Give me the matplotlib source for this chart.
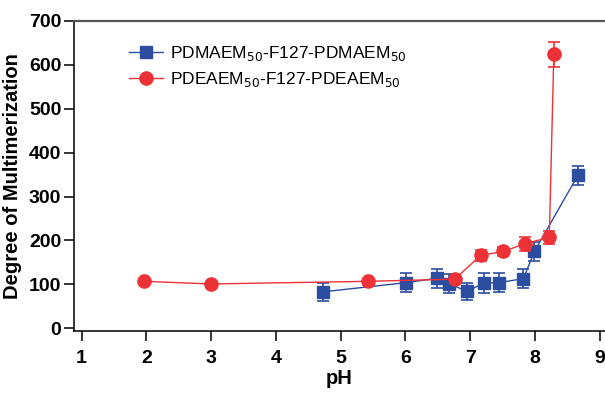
import numpy as np
import matplotlib.pyplot as plt
from matplotlib.lines import Line2D

plt.rcParams['font.family'] = ['Liberation Sans', 'DejaVu Sans']

# PDMAEM50-F127-PDMAEM50
ph_dma = [4.72, 6.01, 6.49, 6.67, 6.95, 7.21, 7.44, 7.82, 7.99, 8.66]
dm_dma = [83, 104, 114, 102, 84, 103, 104, 113, 175, 348]
err_dma = [20, 22, 22, 21, 20, 22, 21, 21, 21, 21]

# PDEAEM50-F127-PDEAEM50
ph_dea = [1.97, 3.00, 5.42, 6.76, 7.16, 7.51, 7.85, 8.22, 8.29]
dm_dea = [107, 101, 107, 112, 166, 175, 193, 207, 624]
err_dea = [0, 0, 0, 0, 13, 11, 16, 14, 28]

labels = ['PDMAEM$_{50}$-F127-PDMAEM$_{50}$', 'PDEAEM$_{50}$-F127-PDEAEM$_{50}$']

blue = '#2d4da0'
red = '#ec3237'

fig = plt.figure(figsize=(6.05, 3.94), dpi=100)
ax = fig.add_axes([0.122, 0.16, 0.878, 0.787])

ax.errorbar(ph_dma, dm_dma, yerr=err_dma, color=blue, marker='s', markersize=8,
            lw=1.0, capsize=4, capthick=1.2, elinewidth=1.2, zorder=3)
ax.errorbar(ph_dea, dm_dea, yerr=err_dea, color=red, marker='o', markersize=9.5,
            lw=1.0, capsize=4, capthick=1.2, elinewidth=1.2, zorder=4)

ax.set_xlim(0.88, 9.08)
ax.set_ylim(-6, 700)
ax.set_xticks(range(1, 10))
ax.set_yticks(range(0, 701, 100))
ax.tick_params(direction='out', length=7, width=1.1, labelsize=14, pad=4)
ax.tick_params(axis='x', pad=7)
ax.tick_params(axis='y', pad=2)
for lab in ax.get_xticklabels() + ax.get_yticklabels():
    lab.set_fontweight('bold')

ax.spines['right'].set_visible(False)
ax.spines['top'].set_color('#555555')
ax.spines['top'].set_linewidth(1.6)
for s in ['left', 'bottom']:
    ax.spines[s].set_linewidth(1.1)

ax.set_xlabel('pH', fontsize=14.5, fontweight='bold', labelpad=1)
ax.set_ylabel('Degree of Multimerization', fontsize=14.5, fontweight='bold', labelpad=5)

handles = [Line2D([], [], color=blue, marker='s', markersize=8, lw=1.0),
           Line2D([], [], color=red, marker='o', markersize=9.5, lw=1.0)]
ax.legend(handles, labels, loc='upper left', bbox_to_anchor=(0.09, 0.947), frameon=False,
          fontsize=12.5, handlelength=2.0, handletextpad=0.4,
          labelspacing=0.4, borderaxespad=0)

fig.savefig('out.png', dpi=100)
